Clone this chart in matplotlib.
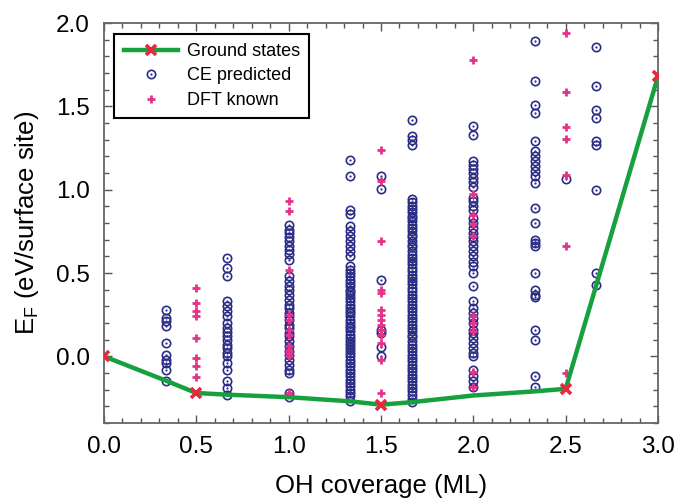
import matplotlib
matplotlib.use("Agg")
import matplotlib.pyplot as plt
from matplotlib.ticker import MultipleLocator
from matplotlib.lines import Line2D

plt.rcParams['font.family'] = ['Liberation Sans', 'DejaVu Sans']
plt.rcParams['mathtext.fontset'] = 'custom'
plt.rcParams['mathtext.rm'] = 'Liberation Sans'
plt.rcParams['mathtext.it'] = 'Liberation Sans:italic'

# ---------------- data ----------------
# convex hull (ground-state line)
hull_x = [0.0, 1/3, 0.5, 2/3, 1.0, 4/3, 1.5, 5/3, 2.0, 7/3, 2.5, 3.0]
hull_e = [0.0, -0.145, -0.22, -0.23, -0.245, -0.27, -0.29, -0.275, -0.235, -0.21, -0.195, 1.68]
ground_idx = [0, 2, 6, 10, 11]

# CE predicted (per coverage)
ce_033 = [0.28, 0.23, 0.21, 0.18, 0.08, 0.01, -0.02, -0.04, -0.08, -0.145]
ce_067 = [0.59, 0.53, 0.48, 0.33, 0.30, 0.27, 0.24, 0.20, 0.17, 0.145, 0.12, 0.10,
          0.07, 0.05, 0.02, 0.00, -0.04, -0.08, -0.15, -0.19, -0.23]
ce_100 = [0.79, 0.76, 0.74, 0.715, 0.69, 0.665, 0.64, 0.615, 0.58, 0.48, 0.45, 0.42,
          0.40, 0.37, 0.34, 0.31, 0.29, 0.26, 0.24, 0.22, 0.19, 0.17, 0.14, 0.12,
          0.09, 0.06, 0.03, 0.01, -0.02, -0.05, -0.08, -0.10, -0.22, -0.245]
ce_133 = [1.18, 1.08, 0.88, 0.855, 0.78, 0.75, 0.72, 0.69, 0.66, 0.63, 0.60, 0.54,
          0.52, 0.50, 0.485, 0.46, 0.44, 0.42, 0.40, 0.385, 0.37, 0.35, 0.33, 0.31,
          0.29, 0.275, 0.26, 0.24, 0.22, 0.20, 0.185, 0.17, 0.15, 0.13, 0.11, 0.09,
          0.075, 0.055, 0.04, 0.02, 0.00, -0.02, -0.04, -0.06, -0.08, -0.10, -0.12,
          -0.14, -0.16, -0.18, -0.20, -0.22, -0.24, -0.265]
ce_150 = [1.085, 1.005, 0.46, 0.16, 0.14, 0.055, 0.00]
ce_167 = [1.42, 1.32, 1.30, 1.27, 0.945, 0.925, 0.90, 0.885, 0.865, 0.845, 0.83,
          0.81, 0.79, 0.77, 0.75, 0.73, 0.715, 0.69, 0.67, 0.655, 0.63, 0.61, 0.59,
          0.57, 0.555, 0.53, 0.51, 0.49, 0.47, 0.45, 0.435, 0.41, 0.39, 0.37, 0.35,
          0.335, 0.31, 0.29, 0.27, 0.25, 0.23, 0.215, 0.19, 0.17, 0.15, 0.13, 0.115,
          0.09, 0.07, 0.05, 0.03, 0.01, -0.01, -0.03, -0.05, -0.07, -0.09, -0.11,
          -0.13, -0.15, -0.17, -0.19, -0.21, -0.23, -0.255, -0.275]
ce_200 = [1.38, 1.33, 1.17, 1.15, 1.125, 1.10, 1.07, 1.045, 1.015, 0.95, 0.93, 0.905,
          0.88, 0.83, 0.80, 0.77, 0.74, 0.715, 0.69, 0.66, 0.63, 0.60, 0.565, 0.54,
          0.50, 0.42, 0.33, 0.29, 0.26, 0.23, 0.20, 0.16, 0.14, 0.11, 0.08, 0.05,
          0.02, 0.00, -0.08, -0.115, -0.15, -0.185]
ce_233 = [1.89, 1.65, 1.51, 1.46, 1.29, 1.23, 1.20, 1.17, 1.14, 1.11, 1.08, 1.04,
          0.89, 0.80, 0.70, 0.68, 0.66, 0.50, 0.40, 0.37, 0.355, 0.16, 0.10,
          -0.12, -0.185]
ce_250 = [1.065]
ce_267 = [1.855, 1.62, 1.48, 1.43, 1.29, 1.27, 1.00, 0.50, 0.43]

# DFT known (per coverage)
dft_050 = [0.41, 0.32, 0.27, 0.24, 0.11, -0.01, -0.06, -0.125]
dft_100 = [0.93, 0.875, 0.52, 0.25, 0.22, 0.16, 0.13, 0.06, 0.04, 0.02, 0.00, -0.22]
dft_150 = [1.24, 1.05, 0.69, 0.40, 0.38, 0.28, 0.25, 0.22, 0.19, 0.16, 0.13, 0.08,
           -0.02, -0.22]
dft_200 = [1.78, 0.975, 0.85, 0.795, 0.72, 0.24, 0.20, 0.155, -0.095, -0.185]
dft_250 = [1.94, 1.585, 1.375, 1.305, 1.09, 0.66, -0.10]

x_ticks = [0.0, 0.5, 1.0, 1.5, 2.0, 2.5, 3.0]
x_tick_labels = ['0.0', '0.5', '1.0', '1.5', '2.0', '2.5', '3.0']
y_ticks = [0.0, 0.5, 1.0, 1.5, 2.0]
y_tick_labels = ['0.0', '0.5', '1.0', '1.5', '2.0']

ce_cols = [(1/3, ce_033), (2/3, ce_067), (1.0, ce_100), (4/3, ce_133), (1.5, ce_150),
           (5/3, ce_167), (2.0, ce_200), (7/3, ce_233), (2.5, ce_250), (8/3, ce_267)]
dft_cols = [(0.5, dft_050), (1.0, dft_100), (1.5, dft_150), (2.0, dft_200), (2.5, dft_250)]

# ---------------- plot ----------------
fig = plt.figure(figsize=(6.8, 4.98), dpi=100)
ax = fig.add_axes([0.1529, 0.1506, 0.8147, 0.8032])

navy = '#2a2c85'
pink = '#e6338a'
green = '#17a03e'
red = '#e8283c'

ce_x, ce_y = [], []
for x, vals in ce_cols:
    ce_x += [x] * len(vals)
    ce_y += vals
dft_x, dft_y = [], []
for x, vals in dft_cols:
    dft_x += [x] * len(vals)
    dft_y += vals

ax.plot(ce_x, ce_y, ls='none', marker='o', ms=6.0, mfc='none', mec=navy, mew=1.2, zorder=2)
ax.plot(ce_x, ce_y, ls='none', marker='o', ms=1.6, mfc=navy, mec=navy, mew=0, zorder=2)
ax.plot(dft_x, dft_y, ls='none', marker='+', ms=5.5, mec=pink, mew=2.0, zorder=3)
ax.plot(hull_x, hull_e, color=green, lw=3.2, zorder=4, solid_capstyle='round')
ax.plot([hull_x[i] for i in ground_idx], [hull_e[i] for i in ground_idx], ls='none',
        marker='x', ms=7, mew=2.6, color=red, zorder=5)

ax.set_xlim(0, 3.0)
ax.set_ylim(-0.4, 2.0)
ax.set_xticks(x_ticks)
ax.set_xticklabels(x_tick_labels)
ax.set_yticks(y_ticks)
ax.set_yticklabels(y_tick_labels)
ax.xaxis.set_minor_locator(MultipleLocator(0.1))
ax.yaxis.set_minor_locator(MultipleLocator(0.1))
ax.tick_params(which='both', direction='in', top=True, right=True, color='#555555')
ax.tick_params(which='major', length=6, width=1.0, labelsize=17.5)
ax.tick_params(which='minor', length=3.5, width=1.0)
ax.tick_params(axis='x', which='major', pad=9)
ax.tick_params(axis='y', which='major', pad=10)
for s in ax.spines.values():
    s.set_color('#666666')
    s.set_linewidth(1.3)

ax.set_xlabel('OH coverage (ML)', fontsize=18.5, labelpad=12)
ax.set_ylabel(r'E$_\mathrm{F}$ (eV/surface site)', fontsize=18.5, labelpad=11)

h_gs = Line2D([], [], color=green, lw=3.2, marker='x', ms=7, mew=2.6, mec=red)
h_ce1 = Line2D([], [], ls='none', marker='o', ms=6.0, mfc='none', mec=navy, mew=1.2)
h_ce2 = Line2D([], [], ls='none', marker='o', ms=1.6, mfc=navy, mec=navy, mew=0)
h_dft = Line2D([], [], ls='none', marker='+', ms=5.5, mec=pink, mew=2.0)
leg = ax.legend([h_gs, (h_ce1, h_ce2), h_dft], ['Ground states', 'CE predicted', 'DFT known'],
                loc='upper left', bbox_to_anchor=(0.019, 0.973), fontsize=13,
                fancybox=False, framealpha=1, edgecolor='black', handlelength=3.0,
                handletextpad=0.5, borderpad=0.5, labelspacing=0.42, borderaxespad=0)
leg.get_frame().set_linewidth(1.5)

fig.savefig('out.png', dpi=100)
